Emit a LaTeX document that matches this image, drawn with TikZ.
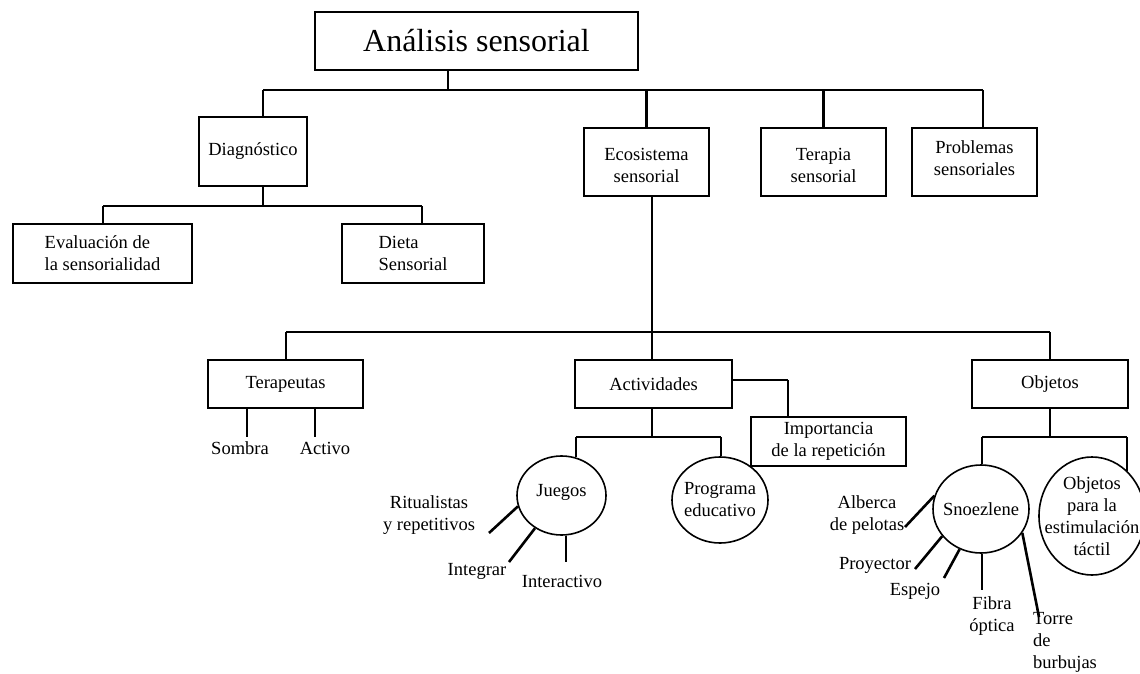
\documentclass[tikz,border=0pt]{standalone}
\usepackage{fontspec}
\setmainfont{Liberation Serif}
\usetikzlibrary{shapes.geometric}
\newcommand{\shiftv}[2]{\raisebox{#1}[\height][\depth]{\begin{tabular}{@{}c@{}}#2\end{tabular}}}
\begin{document}
\begin{tikzpicture}[x=1pt,y=-1pt,
  every node/.style={font=\fontsize{18.5}{22}\selectfont, inner sep=0pt},
  box/.style={draw, line width=2.8pt, minimum width=#1, align=center},
  oval/.style={draw, ellipse, line width=1.6pt, align=center, inner sep=-30pt},
  vline/.style={line width=2.8pt},
  hline/.style={line width=1.6pt},
  spoke/.style={line width=2.6pt},
  lbl/.style={align=center}]
\useasboundingbox (0,0) rectangle (1140,674);
\fill[white] (0,0) rectangle (1140,674);

% boxes
\node[box=323pt, minimum height=58pt, font=\fontsize{32}{36}\selectfont] (title) at (476.5,41) {Análisis sensorial};
\node[box=108pt, minimum height=69pt] (diag) at (253,151.5) {Diagnóstico};
\node[box=179pt, minimum height=59pt, align=left] (eval) at (102.5,253.5) {Evaluación de\\la sensorialidad};
\node[box=142pt, minimum height=59pt, align=left] (dieta) at (413,253.5) {Dieta\\Sensorial};
\node[box=125pt, minimum height=68pt] (eco) at (646.5,162) {\shiftv{-5pt}{Ecosistema\\sensorial}};
\node[box=125pt, minimum height=68pt] (terapia) at (823.5,162) {\shiftv{-5pt}{Terapia\\sensorial}};
\node[box=125pt, minimum height=68pt] (problemas) at (974.5,162) {\shiftv{2pt}{Problemas\\sensoriales}};
\node[box=155pt, minimum height=48pt] (terapeutas) at (285.5,384) {Terapeutas};
\node[box=157pt, minimum height=48pt] (activ) at (653.5,384) {Actividades};
\node[box=156pt, minimum height=48pt] (objetos) at (1050,384) {Objetos};
\node[box=155pt, minimum height=49pt] (imp) at (828.5,441.5) {Importancia\\de la repetición};

% ovals
\node[oval, minimum width=89pt, minimum height=79pt] (juegos) at (561.5,495.5) {\shiftv{3pt}{Juegos}};
\node[oval, minimum width=96pt, minimum height=86pt] (prog) at (720,500) {Programa\\educativo};
\node[oval, minimum width=96pt, minimum height=88pt] (snoez) at (981,509) {Snoezlene};
\node[oval, minimum width=106pt, minimum height=118pt] (objpara) at (1092,516) {Objetos\\para la\\estimulación\\táctil};

% leaf labels
\node[lbl] (sombra) at (240,448) {Sombra};
\node[lbl] (activo) at (325,448) {Activo};
\node[lbl] (rit) at (429,515) {Ritualistas\\y repetitivos};
\node[lbl] (integrar) at (477,571) {Integrar};
\node[lbl] (interac) at (562,581) {Interactivo};
\node[lbl] (alberca) at (867,515) {Alberca\\de pelotas};
\node[lbl] (proy) at (875,565) {Proyector};
\node[lbl] (espejo) at (915,591) {Espejo};
\node[lbl] (fibra) at (992,616.5) {Fibra\\óptica};
\node[lbl, align=left, anchor=north west] (torre) at (1033,612) {Torre\\de\\burbujas};

% coordinates
\coordinate (t1) at (448,90);
\coordinate (b1l) at (263,90);
\coordinate (b1r) at (983,90);
\coordinate (b2l) at (103,206);
\coordinate (b2r) at (422,206);
\coordinate (m) at (652,332);
\coordinate (b3l) at (286,332);
\coordinate (b3r) at (1050,332);
\coordinate (ai) at (788,380);
\coordinate (b4) at (652,437);
\coordinate (b4l) at (576,437);
\coordinate (b4r) at (721,437);
\coordinate (b5) at (1050,437);
\coordinate (b5l) at (982,437);
\coordinate (b5r) at (1127,437);
\coordinate (s1) at (247,437);
\coordinate (s2) at (315,437);
\coordinate (e1) at (489,533);
\coordinate (e2) at (509,562);
\coordinate (e3) at (566,562);
\coordinate (e4) at (905,527);
\coordinate (e5) at (915,569);
\coordinate (e6) at (944,578);
\coordinate (e7) at (982,590);
\coordinate (e8) at (1039,617);

% level 1
\draw[vline] (title.south -| t1) -- (t1);
\draw[hline] (b1l) -- (b1r);
\draw[vline] (b1l) -- (diag.north -| b1l);
\draw[vline] (eco.north) -- (eco.north |- b1l);
\draw[vline] (terapia.north) -- (terapia.north |- b1l);
\draw[vline] (b1r) -- (problemas.north -| b1r);

% diagnóstico
\draw[vline] (diag.south -| b1l) -- (b1l |- b2l);
\draw[hline] (b2l) -- (b2r);
\draw[vline] (b2l) -- (eval.north -| b2l);
\draw[vline] (b2r) -- (dieta.north -| b2r);

% ecosistema
\draw[vline] (eco.south -| m) -- (activ.north -| m);
\draw[hline] (b3l) -- (b3r);
\draw[vline] (b3l) -- (terapeutas.north -| b3l);
\draw[vline] (b3r) -- (objetos.north);

% terapeutas
\draw[vline] (terapeutas.south -| s1) -- (s1);
\draw[vline] (terapeutas.south -| s2) -- (s2);

% actividades
\draw[hline] (activ.east |- ai) -- (ai);
\draw[vline] (ai) -- (imp.north -| ai);
\draw[vline] (activ.south -| b4) -- (b4);
\draw[hline] (b4l) -- (b4r);
\draw[vline] (b4l) -- (b4l |- juegos.69);
\draw[vline] (b4r) -- (prog.north -| b4r);

% juegos spokes
\draw[spoke] (juegos.194) -- (e1);
\draw[spoke] (juegos.231) -- (e2);
\draw[spoke] (juegos.south -| e3) -- (e3);

% objetos
\draw[vline] (objetos.south) -- (b5);
\draw[hline] (b5l) -- (b5r);
\draw[vline] (b5l) -- (snoez.north -| b5l);
\draw[vline] (b5r) -- (b5r |- objpara.52);

% snoezlene spokes
\draw[spoke] (snoez.164) -- (e4);
\draw[spoke] (snoez.215) -- (e5);
\draw[spoke] (snoez.242) -- (e6);
\draw[spoke] (snoez.south -| e7) -- (e7);
\draw[spoke] (snoez.330) -- (e8);
\end{tikzpicture}
\end{document}
